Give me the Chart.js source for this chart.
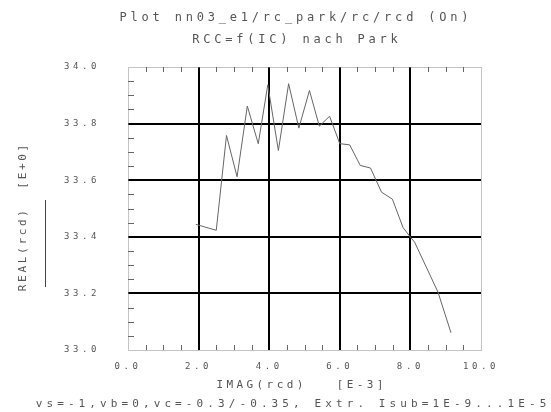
<!DOCTYPE html>
<html>
<head>
<meta charset="utf-8">
<script src="https://cdn.jsdelivr.net/npm/chart.js@4.4.1/dist/chart.umd.min.js"></script>
<style>
  html, body { margin: 0; padding: 0; background: #fff; }
  #wrap { width: 551px; height: 412px; }
</style>
</head>
<body>
<div id="wrap"><canvas id="rcdChart"></canvas></div>
<script>
// IMAG(rcd) [E-3] vs REAL(rcd) [E+0]
const imagRcd = [1.92, 2.50, 2.79, 3.09, 3.38, 3.69, 3.96, 4.26, 4.55, 4.84, 5.14, 5.42,
  5.71, 6.00, 6.28, 6.58, 6.87, 7.18, 7.49, 7.79, 8.00, 8.12, 8.78, 9.15];
const realRcd = [33.444, 33.423, 33.758, 33.612, 33.862, 33.729, 33.937, 33.705, 33.941, 33.784, 33.917, 33.791,
  33.826, 33.729, 33.725, 33.652, 33.643, 33.558, 33.533, 33.433, 33.399, 33.381, 33.205, 33.061];

const titleLines = ["Plot nn03_e1/rc_park/rc/rcd (On)", "RCC=f(IC) nach Park"];
const xTitle = "IMAG(rcd)   [E-3]";
const yTitle = "REAL(rcd)  [E+0]";
const footNote = "vs=-1,vb=0,vc=-0.3/-0.35, Extr. Isub=1E-9...1E-5";

const FONT = '"DejaVu Sans Mono", monospace';
const TXT = "#555";

function isMajor(v, step) {
  const r = v / step;
  return Math.abs(r - Math.round(r)) < 1e-6;
}

function spacedText(ctx, s, x, y, size, spacing) {
  ctx.save();
  ctx.font = size + "px " + FONT;
  ctx.letterSpacing = spacing + "px";
  const w = ctx.measureText(s).width - spacing;
  ctx.fillStyle = TXT;
  ctx.textBaseline = "middle";
  ctx.textAlign = "left";
  ctx.fillText(s, x - w / 2, y);
  ctx.restore();
}

const plotDeco = {
  id: "plotDeco",
  beforeDraw(chart) {
    chart.ctx.letterSpacing = "3.6px";
  },
  afterDraw(chart) {
    const ctx = chart.ctx;
    const a = chart.chartArea;
    const xs = chart.scales.x, ys = chart.scales.y;
    ctx.save();
    ctx.letterSpacing = "0px";
    // frame
    ctx.strokeStyle = "#888";
    ctx.lineWidth = 1;
    ctx.setLineDash([1, 1]);
    ctx.strokeRect(Math.round(a.left) + 0.5, Math.round(a.top) + 0.5,
      Math.round(a.right - a.left), Math.round(a.bottom - a.top));
    ctx.setLineDash([]);
    // minor ticks
    ctx.strokeStyle = "#666";
    ctx.beginPath();
    xs.ticks.forEach(t => {
      if (isMajor(t.value, 2)) return;
      const px = Math.round(xs.getPixelForValue(t.value)) + 0.5;
      ctx.moveTo(px, a.bottom); ctx.lineTo(px, a.bottom - 5);
      ctx.moveTo(px, a.top); ctx.lineTo(px, a.top + 5);
    });
    ys.ticks.forEach(t => {
      if (isMajor(t.value, 0.2)) return;
      const py = Math.round(ys.getPixelForValue(t.value)) + 0.5;
      ctx.moveTo(a.left, py); ctx.lineTo(a.left + 6, py);
    });
    ctx.stroke();
    ctx.restore();

    // texts
    spacedText(ctx, titleLines[0], 294, 18, 12, 3.8);
    spacedText(ctx, titleLines[1], 295, 40, 12, 3.8);
    spacedText(ctx, xTitle, 300, 385, 11, 3.4);
    spacedText(ctx, footNote, 291, 404, 11, 4.1);

    ctx.save();
    ctx.translate(23, 218);
    ctx.rotate(-Math.PI / 2);
    spacedText(ctx, yTitle, 0, 0, 11, 2.7);
    ctx.restore();

    ctx.save();
    ctx.strokeStyle = "#444";
    ctx.lineWidth = 1;
    ctx.beginPath();
    ctx.moveTo(45.5, 200); ctx.lineTo(45.5, 287);
    ctx.stroke();
    ctx.restore();
  }
};

new Chart(document.getElementById("rcdChart"), {
  type: "scatter",
  data: {
    datasets: [{
      data: imagRcd.map((x, i) => ({ x: x, y: realRcd[i] })),
      showLine: true,
      borderColor: "#666",
      borderWidth: 1,
      pointRadius: 0,
      tension: 0
    }]
  },
  options: {
    responsive: true,
    maintainAspectRatio: false,
    animation: false,
    layout: { padding: { left: 0, right: 70, top: 67, bottom: 0 } },
    plugins: { legend: { display: false }, tooltip: { enabled: false } },
    scales: {
      x: {
        type: "linear",
        min: 0, max: 10,
        afterFit(s) { s.height = 62; },
        border: { display: false },
        grid: {
          drawTicks: false,
          color: c => (isMajor(c.tick.value, 2) && c.tick.value > 0 && c.tick.value < 10) ? "#000" : "rgba(0,0,0,0)",
          lineWidth: 2
        },
        ticks: {
          stepSize: 0.5,
          autoSkip: false,
          maxRotation: 0,
          padding: 11,
          color: TXT,
          font: { family: FONT, size: 9 },
          callback: v => isMajor(v, 2) ? v.toFixed(1) : ""
        }
      },
      y: {
        type: "linear",
        min: 33.0, max: 34.0,
        afterFit(s) { s.width = 128; },
        border: { display: false },
        grid: {
          drawTicks: false,
          color: c => (isMajor(c.tick.value, 0.2) && c.tick.value > 33.01 && c.tick.value < 33.99) ? "#000" : "rgba(0,0,0,0)",
          lineWidth: 2
        },
        ticks: {
          stepSize: 0.05,
          autoSkip: false,
          padding: 28,
          color: TXT,
          font: { family: FONT, size: 9 },
          callback: v => isMajor(v, 0.2) ? v.toFixed(1) : ""
        }
      }
    }
  },
  plugins: [plotDeco]
});
</script>
</body>
</html>
